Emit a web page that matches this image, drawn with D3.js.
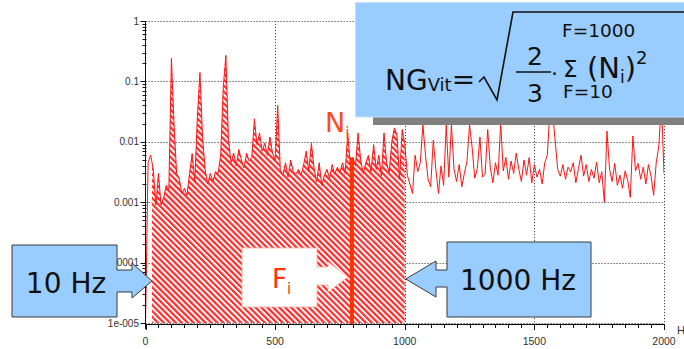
<!DOCTYPE html>
<html><head><meta charset="utf-8">
<script src="https://cdn.jsdelivr.net/npm/d3@7"></script>
<style>html,body{margin:0;padding:0;background:#fff;} svg{display:block}</style>
</head><body>
<svg id="c" width="684" height="349"></svg>
<script>
// ---- data ----
const freqHz = d3.range(0, 2001, 10);
const amplitude = [
  0.00001, 0.0045, 0.006, 0.0035, 0.0009, 0.003, 0.0009, 0.0012, 0.0019, 0.0016,
  0.24, 0.02, 0.003, 0.0025, 0.0014, 0.0017, 0.0013, 0.003, 0.0064, 0.0022,
  0.025, 0.14, 0.012, 0.0035, 0.002, 0.003, 0.0022, 0.0032, 0.003, 0.006,
  0.08, 0.27, 0.011, 0.0045, 0.0065, 0.004, 0.0075, 0.005, 0.0037, 0.0065,
  0.0048, 0.0055, 0.024, 0.009, 0.014, 0.007, 0.0095, 0.006, 0.012, 0.0065,
  0.005, 0.04, 0.0035, 0.0028, 0.0045, 0.0026, 0.005, 0.0032, 0.0029, 0.0035,
  0.0028, 0.0042, 0.007, 0.0033, 0.0094, 0.0037, 0.0022, 0.0045, 0.0019, 0.0028,
  0.0035, 0.0025, 0.0042, 0.0029, 0.0038, 0.0031, 0.0045, 0.003, 0.014, 0.0042,
  0.0055, 0.004, 0.014, 0.005, 0.003, 0.0045, 0.006, 0.0032, 0.009, 0.0035,
  0.006, 0.0027, 0.014, 0.0045, 0.0031, 0.01, 0.017, 0.013, 0.0024, 0.016,
  0.0093, 0.0028, 0.002, 0.0014, 0.006, 0.0032, 0.0045, 0.019, 0.006, 0.0024,
  0.0018, 0.0106, 0.0035, 0.0014, 0.004, 0.0019, 0.019, 0.0026, 0.019, 0.0035,
  0.0022, 0.0042, 0.0018, 0.003, 0.0048, 0.019, 0.008, 0.0025, 0.0036, 0.012,
  0.0026, 0.0029, 0.016, 0.0038, 0.0021, 0.0045, 0.0028, 0.02, 0.0033, 0.0055,
  0.0024, 0.0048, 0.003, 0.0065, 0.0035, 0.0022, 0.005, 0.0028, 0.0055, 0.0021,
  0.0042, 0.0026, 0.0035, 0.002, 0.0045, 0.006, 0.035, 0.03, 0.0107, 0.0035,
  0.0027, 0.0042, 0.0024, 0.0038, 0.0032, 0.0045, 0.0021, 0.0036, 0.006, 0.0027,
  0.0042, 0.0022, 0.0035, 0.0025, 0.0046, 0.0021, 0.0032, 0.001, 0.015, 0.0035,
  0.0022, 0.0044, 0.0019, 0.0028, 0.0017, 0.0033, 0.0023, 0.0012, 0.0125, 0.0033,
  0.0044, 0.0024, 0.0038, 0.002, 0.0042, 0.0027, 0.0013, 0.0045, 0.0085, 0.045,
  0.003
];
const xTicks = [0, 500, 1000, 1500, 2000];
const xTickLabels = ["0", "500", "1000", "1500", "2000"];
const yTicks = [1, 0.1, 0.01, 0.001, 0.0001, 0.00001];
const yTickLabels = ["1", "0.1", "0.01", "0.001", "0.0001", "1e-005"];
const bandHz = [25, 1000];
const niHz = 800;
const xUnit = "Hz";

// ---- layout ----
const svg = d3.select("#c");
const X0 = 145.5, X1 = 664, Y0 = 21, Y1 = 323, AXY = 324;
const x = d3.scaleLinear().domain([0, 2000]).range([X0, X1]);
const y = d3.scaleLog().domain([1e-5, 1]).range([Y1, Y0]);
const data = freqHz.map((f, i) => ({f, v: amplitude[i]}));

const defs = svg.append("defs");
const pat = defs.append("pattern").attr("id", "hatch").attr("patternUnits", "userSpaceOnUse")
  .attr("width", 4.2).attr("height", 4.2).attr("patternTransform", "rotate(-45)");
pat.append("rect").attr("width", 4.2).attr("height", 4.2).attr("fill", "#fff");
pat.append("rect").attr("width", 2.2).attr("height", 4.2).attr("fill", "#ff2a2a");
defs.append("clipPath").attr("id", "plot").append("rect")
  .attr("x", X0).attr("y", Y0).attr("width", X1 - X0).attr("height", Y1 - Y0);
defs.append("clipPath").attr("id", "band").append("rect")
  .attr("x", x(bandHz[0])).attr("y", Y0).attr("width", x(bandHz[1]) - x(bandHz[0])).attr("height", Y1 - Y0 + 1);

// gridlines
const grid = svg.append("g").attr("stroke", "#444").attr("stroke-width", 1).attr("stroke-dasharray", "1.2,1.8");
yTicks.forEach(t => grid.append("line").attr("x1", X0).attr("x2", X1).attr("y1", Math.round(y(t)) + 0.5).attr("y2", Math.round(y(t)) + 0.5));
xTicks.slice(1).forEach(t => grid.append("line").attr("x1", Math.round(x(t)) + 0.5).attr("x2", Math.round(x(t)) + 0.5).attr("y1", Y0).attr("y2", AXY));

// hatched band
const area = d3.area().x(d => x(d.f)).y0(y(1e-5)).y1(d => y(d.v));
svg.append("path").datum(data).attr("d", area).attr("fill", "url(#hatch)").attr("clip-path", "url(#band)");

// spectrum line
const line = d3.line().x(d => x(d.f)).y(d => y(d.v));
svg.append("path").datum(data).attr("d", line).attr("fill", "none").attr("stroke", "#ff1414")
  .attr("stroke-width", 1).attr("clip-path", "url(#plot)");

// axes
const axG = svg.append("g").attr("stroke", "#111").attr("stroke-width", 1);
axG.append("line").attr("x1", X0).attr("x2", X0).attr("y1", Y0).attr("y2", AXY + 5);
axG.append("line").attr("x1", X0).attr("x2", X1 + 1).attr("y1", AXY + 0.5).attr("y2", AXY + 0.5);
yTicks.forEach(t => axG.append("line").attr("x1", X0 - 5).attr("x2", X0).attr("y1", Math.round(y(t)) + 0.5).attr("y2", Math.round(y(t)) + 0.5));
yTicks.slice(1).forEach(d => { for (let k = 2; k <= 9; k++) {
  const yy = Math.round(y(k * d)) + 0.5;
  axG.append("line").attr("x1", X0 - 3).attr("x2", X0 + 1).attr("y1", yy).attr("y2", yy);
}});
d3.range(0, 2001, 50).forEach(t => axG.append("line").attr("x1", Math.round(x(t)) + 0.5).attr("x2", Math.round(x(t)) + 0.5)
  .attr("y1", AXY).attr("y2", AXY + (t % 500 === 0 ? 6 : 4)));

svg.append("g").attr("font-family", "Liberation Sans, Arial, sans-serif").attr("font-size", 10).attr("fill", "#333")
  .attr("text-anchor", "end")
  .selectAll("text").data(yTicks).join("text")
  .attr("x", 139).attr("y", d => y(d) + 3.5).text((d, i) => yTickLabels[i]);
svg.append("g").attr("font-family", "Liberation Sans, Arial, sans-serif").attr("font-size", 10.5).attr("fill", "#333")
  .attr("text-anchor", "middle")
  .selectAll("text").data(xTicks).join("text")
  .attr("x", d => x(d)).attr("y", 345).text((d, i) => xTickLabels[i]);
svg.append("text").attr("x", 677).attr("y", 334).attr("font-family", "Liberation Sans, Arial, sans-serif")
  .attr("font-size", 11).attr("fill", "#333").text(xUnit);

// Ni thick line
const niV = amplitude[freqHz.indexOf(niHz)];
svg.append("line").attr("x1", x(niHz) - 1).attr("x2", x(niHz) - 1).attr("y1", y(niV)).attr("y2", AXY)
  .attr("stroke", "#ff3300").attr("stroke-width", 4);
const niT = svg.append("text").attr("x", 325).attr("y", 132).attr("font-family", "DejaVu Sans, Verdana, sans-serif")
  .attr("fill", "#ff4a1a").attr("font-size", 27);
niT.append("tspan").text("N");
niT.append("tspan").attr("dy", 6).attr("font-size", 15).text("i");

// Fi callout
const tip = x(niHz) - 5;
svg.append("path").attr("d", `M242,248H317V267H328V262L${tip},277L328,292V285H317V307H242Z`)
  .attr("fill", "#fff").attr("stroke", "#ffb0a0").attr("stroke-width", 0.8);
const fiT = svg.append("text").attr("x", 272).attr("y", 288).attr("font-family", "DejaVu Sans, Verdana, sans-serif")
  .attr("fill", "#ff3300").attr("font-size", 26);
fiT.append("tspan").text("F");
fiT.append("tspan").attr("dy", 6).attr("font-size", 15).text("i");

// 10 Hz callout
const lt = x(bandHz[0]);
svg.append("path").attr("d", `M12,245H117V270H132V263L${lt},281L132,298V292H117V317H12Z`)
  .attr("fill", "#99ccff").attr("stroke", "#3a3a3a").attr("stroke-width", 1);
svg.append("text").attr("x", 66).attr("y", 293).attr("text-anchor", "middle")
  .attr("font-family", "DejaVu Sans, Verdana, sans-serif").attr("font-size", 28).attr("fill", "#111").text("10 Hz");

// 1000 Hz callout
const rt = x(bandHz[1]) + 1;
svg.append("path").attr("d", `M447,242H591V317H447V287H436V297L${rt},279L436,261V270H447Z`)
  .attr("fill", "#99ccff").attr("stroke", "#3a3a3a").attr("stroke-width", 1);
svg.append("text").attr("x", 518).attr("y", 290).attr("text-anchor", "middle")
  .attr("font-family", "DejaVu Sans, Verdana, sans-serif").attr("font-size", 28).attr("fill", "#111").text("1000 Hz");

// formula box
svg.append("rect").attr("x", 373).attr("y", 117).attr("width", 311).attr("height", 8).attr("fill", "#808080");
svg.append("rect").attr("x", 355.5).attr("y", 2.5).attr("width", 330).attr("height", 114.5)
  .attr("fill", "#99ccff").attr("stroke", "#c4e0ff").attr("stroke-width", 1);
const fm = svg.append("g").attr("font-family", "DejaVu Sans, Verdana, sans-serif").attr("fill", "#111");
const ng = fm.append("text").attr("x", 385).attr("y", 90).attr("font-size", 28);
ng.append("tspan").text("NG");
ng.append("tspan").attr("font-size", 18).attr("dy", 1).text("Vit");
ng.append("tspan").attr("dy", -2).text("=");
svg.append("path").attr("d", "M479,82L484,77L497,100L513,12H684").attr("fill", "none")
  .attr("stroke", "#111").attr("stroke-width", 1.6);
fm.append("text").attr("x", 535).attr("y", 65).attr("text-anchor", "middle").attr("font-size", 25).text("2");
svg.append("line").attr("x1", 516).attr("x2", 551).attr("y1", 72).attr("y2", 72).attr("stroke", "#111").attr("stroke-width", 1.5);
fm.append("text").attr("x", 535).attr("y", 102).attr("text-anchor", "middle").attr("font-size", 25).text("3");
fm.append("text").attr("x", 551).attr("y", 75).attr("font-size", 22).text(".");
fm.append("text").attr("x", 563).attr("y", 77).attr("font-size", 23).text("Σ");
const ni2 = fm.append("text").attr("x", 587).attr("y", 78).attr("font-size", 29);
ni2.append("tspan").text("(N");
ni2.append("tspan").attr("dy", 5).attr("font-size", 17).text("i");
ni2.append("tspan").attr("dy", -5).text(")");
ni2.append("tspan").attr("dy", -14).attr("font-size", 18).text("2");
fm.append("text").attr("x", 562).attr("y", 37).attr("font-size", 18.5).text("F=1000");
fm.append("text").attr("x", 563).attr("y", 98).attr("font-size", 18.5).text("F=10");
</script>
</body></html>
